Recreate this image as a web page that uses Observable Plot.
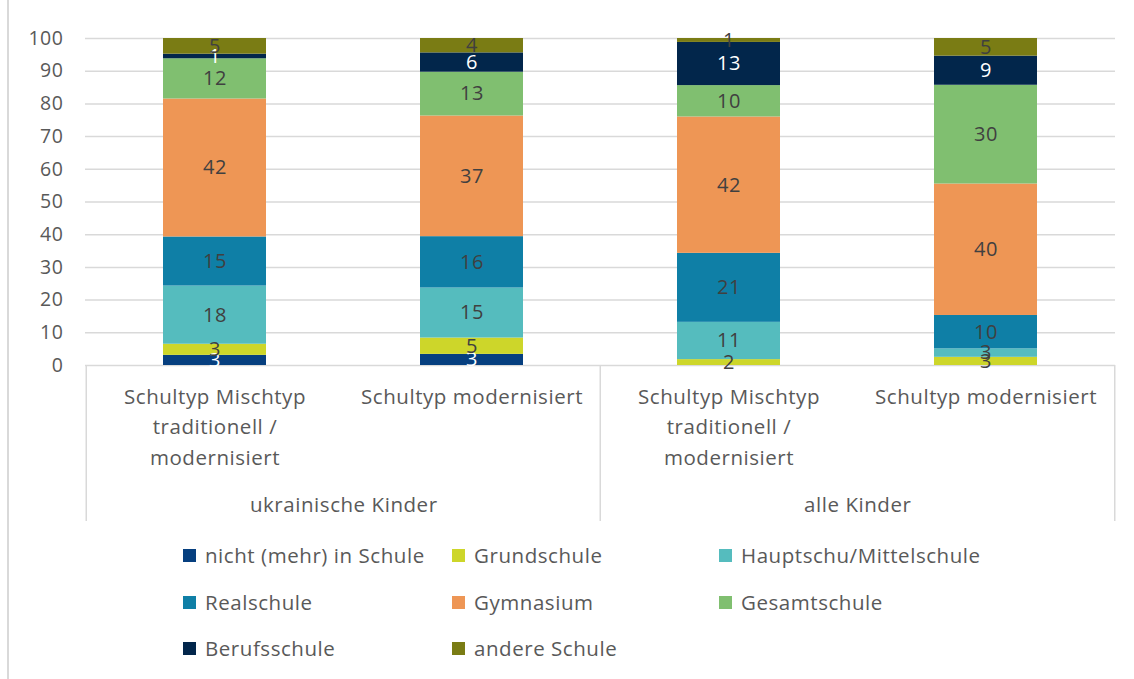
<!DOCTYPE html>
<html>
<head>
<meta charset="utf-8">
<script src="https://cdn.jsdelivr.net/npm/d3@7"></script>
<script src="https://cdn.jsdelivr.net/npm/@observablehq/plot@0.6"></script>
<style>
  html, body { margin: 0; padding: 0; background: #fff; }
  #wrap { position: relative; width: 1134px; height: 679px; overflow: hidden; font-family: "Open Sans", sans-serif; }
  #frame { position: absolute; left: 7px; top: 0; width: 2px; height: 679px; background: #d9d9d9; }
  #legend { position: absolute; left: 0; top: 530px; width: 1134px; height: 149px; }
  .item { position: absolute; display: flex; align-items: center; font-size: 20.5px; letter-spacing: 0.55px; color: #595959; transform: translateY(-50%); white-space: nowrap; }
  .sw { width: 13px; height: 13px; margin-right: 9px; }
</style>
</head>
<body>
<div id="wrap">
  <div id="chart"></div>
  <div id="legend"></div>
  <div id="frame"></div>
</div>
<script>
// ---- data ----
const categoryIds = ["uk-misch", "uk-mod", "alle-misch", "alle-mod"];
const categoryLabels = [
  "Schultyp Mischtyp\ntraditionell /\nmodernisiert",
  "Schultyp modernisiert",
  "Schultyp Mischtyp\ntraditionell /\nmodernisiert",
  "Schultyp modernisiert"
];
const groupLabels = ["ukrainische Kinder", "alle Kinder"];
const groupFirstCategory = ["uk-misch", "alle-misch"];

const seriesNames = [
  "nicht (mehr) in Schule", "Grundschule", "Hauptschu/Mittelschule", "Realschule",
  "Gymnasium", "Gesamtschule", "Berufsschule", "andere Schule"
];
const seriesColors = ["#063f7f", "#cdd62a", "#55bcbe", "#0f7fa6", "#ee9655", "#80bf70", "#02264b", "#7a7c14"];
const darkSeries = ["nicht (mehr) in Schule", "Berufsschule"];

const nichtInSchule = [3.1, 3.4, 0, 0];
const grundschule   = [3.4, 5.0, 1.8, 2.5];
const hauptschule   = [17.8, 15.3, 11.4, 2.6];
const realschule    = [15.0, 15.7, 21.1, 10.2];
const gymnasium     = [42.2, 36.9, 41.7, 40.2];
const gesamtschule  = [12.3, 13.4, 9.6, 30.2];
const berufsschule  = [1.4, 5.9, 13.2, 8.9];
const andereSchule  = [4.8, 4.4, 1.2, 5.4];

const yTicks = [0, 10, 20, 30, 40, 50, 60, 70, 80, 90, 100];

// ---- table ----
const seriesValues = [nichtInSchule, grundschule, hauptschule, realschule, gymnasium, gesamtschule, berufsschule, andereSchule];
const data = [];
seriesNames.forEach((s, i) => {
  categoryIds.forEach((c, j) => data.push({cat: c, series: s, value: seriesValues[i][j]}));
});
const labelOf = d => d.value >= 0.5 ? String(Math.round(d.value)) : "";

const W = 1134, H = 530, ML = 85, MR = 19, MT = 38, MB = 165;
const step = (W - ML - MR) / categoryIds.length;
const yLow = -47.7; // lower end of category separators (below baseline)

const chart = Plot.plot({
  width: W, height: H,
  marginLeft: ML, marginRight: MR, marginTop: MT, marginBottom: MB,
  x: {domain: categoryIds, paddingInner: 0.6, paddingOuter: 0.3, axis: null},
  y: {domain: [0, 100], axis: null},
  color: {domain: seriesNames, range: seriesColors},
  style: {fontFamily: "'Open Sans', sans-serif", color: "#595959", background: "transparent", overflow: "visible", letterSpacing: "0.55px"},
  marks: [
    Plot.ruleY(yTicks, {stroke: "#d9d9d9", strokeWidth: 1.5}),
    Plot.axisY(yTicks, {tickSize: 0, tickPadding: 22, fontSize: 19.5, fill: "#595959", label: null}),
    Plot.barY(data, {x: "cat", y: "value", z: "series", fill: "series"}),
    Plot.text(data, Plot.stackY({x: "cat", y: "value", z: "series",
      text: d => darkSeries.includes(d.series) ? labelOf(d) : "",
      fill: "white", fontSize: 20})),
    Plot.text(data, Plot.stackY({x: "cat", y: "value", z: "series",
      text: d => darkSeries.includes(d.series) ? "" : labelOf(d),
      fill: "#404040", fontSize: 20})),
    // category separators
    Plot.ruleX(groupFirstCategory, {dx: -step / 2, y1: 0, y2: yLow, stroke: "#d9d9d9", strokeWidth: 1.5}),
    Plot.ruleX([categoryIds[categoryIds.length - 1]], {dx: step / 2, y1: 0, y2: yLow, stroke: "#d9d9d9", strokeWidth: 1.5}),
    // category labels
    Plot.text(categoryIds, {x: d => d, y: 0, text: (d, i) => categoryLabels[i],
      lineAnchor: "top", dy: 17, lineHeight: 1.48, fontSize: 20.5, fill: "#595959"}),
    // group labels
    Plot.text(groupFirstCategory, {x: d => d, y: 0, text: (d, i) => groupLabels[i],
      dx: step / 2, dy: 140, fontSize: 20.5, fill: "#595959"})
  ]
});
document.getElementById("chart").appendChild(chart);

// ---- legend ----
const legendCols = [183, 452, 719];
const legendRows = [25, 72, 118];
const legend = document.getElementById("legend");
seriesNames.forEach((s, i) => {
  const el = document.createElement("div");
  el.className = "item";
  el.style.left = legendCols[i % 3] + "px";
  el.style.top = legendRows[Math.floor(i / 3)] + "px";
  const sw = document.createElement("span");
  sw.className = "sw";
  sw.style.background = seriesColors[i];
  const tx = document.createElement("span");
  tx.textContent = s;
  el.appendChild(sw); el.appendChild(tx);
  legend.appendChild(el);
});
</script>
</body>
</html>
